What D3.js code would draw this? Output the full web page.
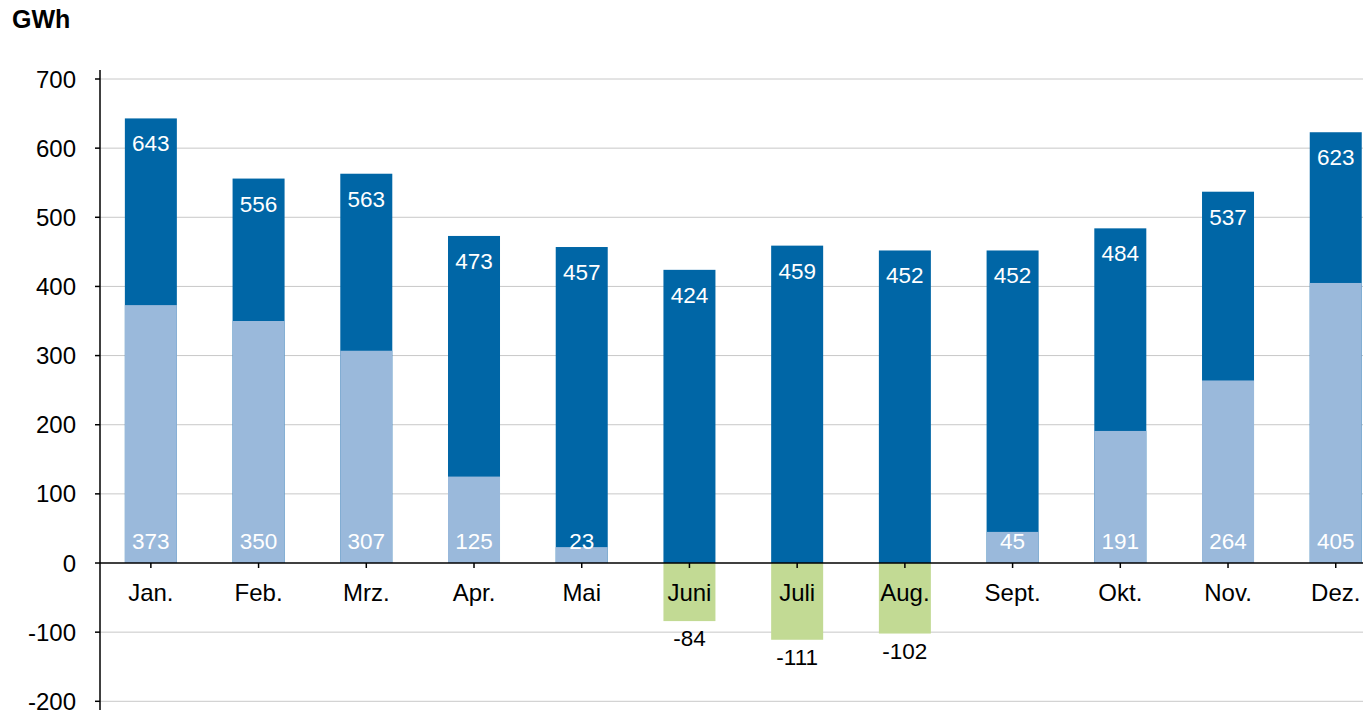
<!DOCTYPE html>
<meta charset="utf-8">
<script src="https://d3js.org/d3.v7.min.js"></script>
<style>
body { margin: 0; background: #fff; }
text { font-family: "Liberation Sans", Arial, sans-serif; }
</style>
<svg id="chart" width="1363" height="714"></svg>
<script>
// months, total (dark) and the part / negative values (light, green)
const months = ["Jan.", "Feb.", "Mrz.", "Apr.", "Mai", "Juni", "Juli", "Aug.", "Sept.", "Okt.", "Nov.", "Dez."]
const totals = [643, 556, 563, 473, 457, 424, 459, 452, 452, 484, 537, 623]
const parts = [373, 350, 307, 125, 23, -84, -111, -102, 45, 191, 264, 405]
const yTicks = [-200, -100, 0, 100, 200, 300, 400, 500, 600, 700]

const svg = d3.select("#chart")

const x = d3.scaleBand().domain(months).range([97, 1389.6])
const y = d3.scaleLinear().domain([-200, 700]).range([701.3, 79])
const barW = 52

const dark = "#0066a6", light = "#9ab9db", green = "#c2da94"

// grid
svg.append("g")
  .selectAll("line")
  .data(yTicks.filter(d => d != 0))
  .join("line")
    .attr("x1", 100).attr("x2", 1363)
    .attr("y1", d => y(d)).attr("y2", d => y(d))
    .attr("stroke", "#c8c8c8").attr("stroke-width", 1)

const cx = m => x(m) + x.bandwidth() / 2

// dark bars (total)
svg.append("g")
  .selectAll("rect")
  .data(months)
  .join("rect")
    .attr("x", m => cx(m) - barW / 2)
    .attr("width", barW)
    .attr("y", (m, i) => y(totals[i]))
    .attr("height", (m, i) => y(0) - y(totals[i]))
    .attr("fill", dark)

// light / green bars
svg.append("g")
  .selectAll("rect")
  .data(months)
  .join("rect")
    .attr("x", m => cx(m) - barW / 2)
    .attr("width", barW)
    .attr("y", (m, i) => y(Math.max(0, parts[i])))
    .attr("height", (m, i) => Math.abs(y(parts[i]) - y(0)))
    .attr("fill", (m, i) => parts[i] < 0 ? green : light)

// y axis
svg.append("line")
  .attr("x1", 100).attr("x2", 100)
  .attr("y1", 70).attr("y2", 710)
  .attr("stroke", "#000").attr("stroke-width", 1.5)

svg.append("g")
  .selectAll("line")
  .data(yTicks)
  .join("line")
    .attr("x1", 95).attr("x2", 100)
    .attr("y1", d => y(d)).attr("y2", d => y(d))
    .attr("stroke", "#000").attr("stroke-width", 1.5)

svg.append("g")
  .selectAll("text")
  .data(yTicks)
  .join("text")
    .attr("x", 76)
    .attr("y", d => y(d) + 8.5)
    .attr("text-anchor", "end")
    .attr("font-size", 24)
    .attr("fill", "#000")
    .text(d => d)

// zero line + ticks
svg.append("line")
  .attr("x1", 100).attr("x2", 1363)
  .attr("y1", y(0)).attr("y2", y(0))
  .attr("stroke", "#000").attr("stroke-width", 1.5)

svg.append("g")
  .selectAll("line")
  .data(months)
  .join("line")
    .attr("x1", m => cx(m)).attr("x2", m => cx(m))
    .attr("y1", y(0)).attr("y2", y(0) + 5)
    .attr("stroke", "#000").attr("stroke-width", 1.5)

// month labels
svg.append("g")
  .selectAll("text")
  .data(months)
  .join("text")
    .attr("x", m => cx(m))
    .attr("y", y(0) + 38)
    .attr("text-anchor", "middle")
    .attr("font-size", 24)
    .attr("fill", "#000")
    .text(m => m)

// value labels
svg.append("g")
  .selectAll("text")
  .data(months)
  .join("text")
    .attr("x", m => cx(m))
    .attr("y", (m, i) => y(totals[i]) + 33)
    .attr("text-anchor", "middle")
    .attr("font-size", 22.5)
    .attr("fill", "#fff")
    .text((m, i) => totals[i])

svg.append("g")
  .selectAll("text")
  .data(months)
  .join("text")
    .attr("x", m => cx(m))
    .attr("y", (m, i) => parts[i] < 0 ? y(parts[i]) + 25 : y(0) - 14)
    .attr("text-anchor", "middle")
    .attr("font-size", 22.5)
    .attr("fill", (m, i) => parts[i] < 0 ? "#000" : "#fff")
    .text((m, i) => parts[i])

svg.append("text")
  .attr("x", 12).attr("y", 28)
  .attr("font-size", 25)
  .attr("font-weight", "bold")
  .text("GWh")
</script>
